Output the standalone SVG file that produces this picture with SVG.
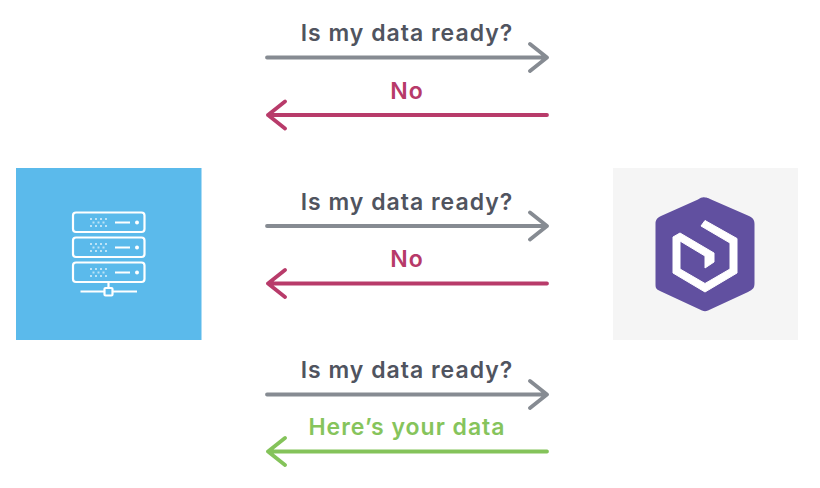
<svg xmlns="http://www.w3.org/2000/svg" width="820" height="488" viewBox="0 0 820 488">
<style>
text{font-family:"Inter","Open Sans","Liberation Sans",sans-serif;font-weight:600;font-size:23px;letter-spacing:1px;text-anchor:middle}
.q{fill:#50545f}.n{fill:#b73a69}.h{fill:#86c45c}
.a{fill:none;stroke-width:3.8;stroke-linecap:round;stroke-linejoin:round}
.g{stroke:#868b92}.r{stroke:#b83b6a}.v{stroke:#84c35a}
.w{fill:none;stroke:#fff;stroke-width:2.2}
.d{stroke:#fff;stroke-width:2;stroke-dasharray:2 3;opacity:.6}
</style>
<rect width="820" height="488" fill="#fff"/>
<g id="server">
<rect x="16" y="168" width="185.500" height="172" fill="#5bbaeb"/>
<rect class="w" x="73" y="212.500" width="71.500" height="19.500" rx="3"/>
<rect class="w" x="73" y="237.500" width="71.500" height="19.500" rx="3"/>
<rect class="w" x="73" y="262.500" width="71.500" height="19.500" rx="3"/>
<path class="w" d="M115 222.500h15M115 247.500h15M115 272.500h15M108.500 282v6M80.500 291.500h24M113 291.500h24"/>
<rect class="w" x="104.500" y="288" width="8" height="7.500" rx="1"/>
<circle cx="137" cy="222.500" r="2" fill="#fff"/><circle cx="137" cy="247.500" r="2" fill="#fff"/><circle cx="137" cy="272.500" r="2" fill="#fff"/>
<path class="d" d="M90 219h17M92.500 222.500h15M90 226h17M90 244h17M92.500 247.500h15M90 251h17M90 269h17M92.500 272.500h15M90 276h17"/>
</g>
<g id="hub">
<rect x="613" y="168" width="185" height="172" fill="#f5f5f5"/>
<path d="M705 197.500 C702 197 701 198 698 199.500L661 216C657 218 655.500 220 655.500 224V284C655.500 288 656 289 660 291L702 310.500C704 311.500 706 311.500 708 310.500L748 292C753 289.500 754.500 288 754.500 283V224C754.500 220 753 218 749 216L710 199C708 198 707 197.500 705 197.500Z" fill="#6150a0"/>
<path d="M705 220.500 L737 238.500 V273 L705 292 L673 273 V237 L680 233 L714 253 V262 L705 268 V256 L680 241 V269 L705 283.500 L730 269 V243 L701 226Z" fill="#fff" stroke="#fff" stroke-linejoin="round"/>
</g>
<g id="connectors">
<path class="a g" d="M267 57.500H546.500M530 44 547 57.500 530 71"/>
<path class="a r" d="M547 115H268M285 101.500 268 115 285 128.500"/>
<path class="a g" d="M267 226H546.500M530 212.500 547 226 530 239.500"/>
<path class="a r" d="M547 283.500H268M285 270 268 283.500 285 297"/>
<path class="a g" d="M267 394.500H546.500M530 381 547 394.500 530 408"/>
<path class="a v" d="M547 451.500H268M285 438 268 451.500 285 465"/>
</g>
<g id="labels">
<text class="q" x="407" y="41">Is my data ready?</text>
<text class="n" x="407" y="99">No</text>
<text class="q" x="407" y="209.500">Is my data ready?</text>
<text class="n" x="407" y="267">No</text>
<text class="q" x="407" y="378">Is my data ready?</text>
<text class="h" x="407" y="435">Here’s your data</text>
</g>
</svg>
